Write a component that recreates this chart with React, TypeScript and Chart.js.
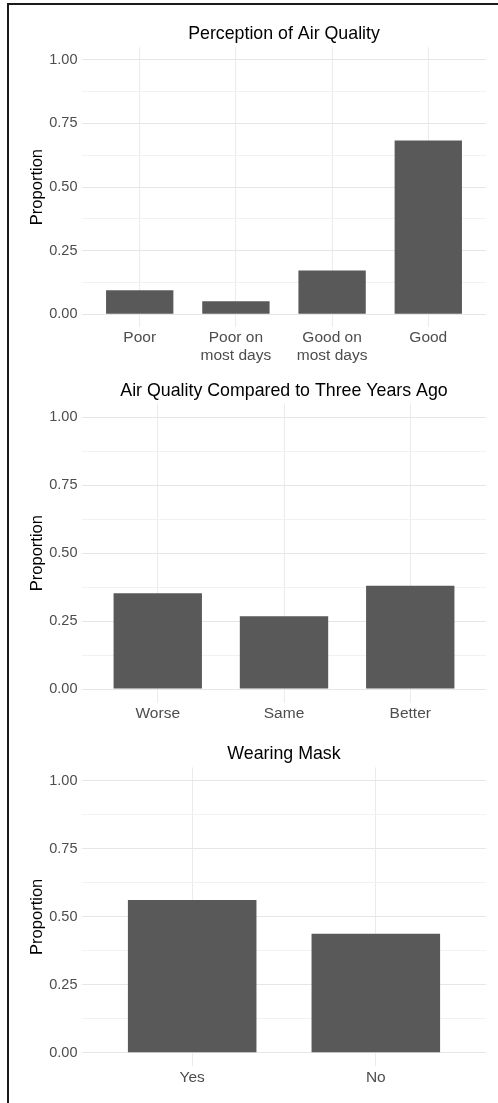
import React, { useEffect, useRef } from "react";
import { Chart, registerables } from "chart.js";

Chart.register(...registerables);

const FONT = "'Liberation Sans', Arial, Helvetica, sans-serif";

// ---- data ----
const perceptionTitle = "Perception of Air Quality";
const perceptionLabels: (string | string[])[] = ["Poor", ["Poor on", "most days"], ["Good on", "most days"], "Good"];
const perceptionValues = [0.094, 0.051, 0.172, 0.683];

const changeTitle = "Air Quality Compared to Three Years Ago";
const changeLabels: (string | string[])[] = ["Worse", "Same", "Better"];
const changeValues = [0.352, 0.268, 0.38];

const maskTitle = "Wearing Mask";
const maskLabels: (string | string[])[] = ["Yes", "No"];
const maskValues = [0.562, 0.438];

const yGridValues = [0, 0.125, 0.25, 0.375, 0.5, 0.625, 0.75, 0.875, 1];
const yMajorValues = [0, 0.25, 0.5, 0.75, 1];
const yAxisTitle = "Proportion";

type PanelProps = {
  title: string;
  labels: (string | string[])[];
  values: number[];
  top: number;
  height: number;
  titlePadTop: number;
  titlePadBottom: number;
  xAxisHeight: number;
};

function Panel({ title, labels, values, top, height, titlePadTop, titlePadBottom, xAxisHeight }: PanelProps) {
  const ref = useRef<HTMLCanvasElement | null>(null);
  useEffect(() => {
    if (!ref.current) return;
    const n = labels.length;
    const chart = new Chart(ref.current, {
      type: "bar",
      data: {
        datasets: [
          {
            data: values.map((v, i) => ({ x: i, y: v })),
            backgroundColor: "#595959",
            borderWidth: 0,
            barPercentage: 0.7,
            categoryPercentage: 1,
          },
        ],
      },
      options: {
        animation: false,
        responsive: false,
        devicePixelRatio: 1,
        layout: { padding: { left: 0, right: 12, top: 0, bottom: 0 } },
        plugins: {
          legend: { display: false },
          tooltip: { enabled: false },
          title: {
            display: true,
            text: title,
            fullSize: false,
            color: "#000000",
            font: { family: FONT, size: 17.8, weight: "normal" },
            padding: { top: titlePadTop, bottom: titlePadBottom },
          },
        },
        scales: {
          x: {
            type: "linear",
            offset: false,
            min: -0.6,
            max: n - 1 + 0.6,
            afterBuildTicks: (scale: any) => {
              scale.ticks = labels.map((_, i) => ({ value: i }));
            },
            afterFit: (scale: any) => {
              scale.height = xAxisHeight;
            },
            ticks: {
              autoSkip: false,
              maxRotation: 0,
              minRotation: 0,
              padding: 2,
              color: "#4d4d4d",
              font: { family: FONT, size: 15.5, lineHeight: 1.16 },
              callback: (v: any) => labels[Math.round(Number(v))] as any,
            },
            grid: { color: "#ebebeb", drawTicks: false, offset: false, lineWidth: 1 },
            border: { display: false },
          },
          y: {
            type: "linear",
            min: -0.05,
            max: 1.05,
            afterBuildTicks: (scale: any) => {
              scale.ticks = yGridValues.map((v) => ({ value: v }));
            },
            afterFit: (scale: any) => {
              scale.width = 82;
            },
            ticks: {
              padding: 4.5,
              color: "#4d4d4d",
              font: { family: FONT, size: 14.5 },
              callback: (v: any) => (yMajorValues.includes(Number(v)) ? Number(v).toFixed(2) : ""),
            },
            grid: {
              drawTicks: false,
              lineWidth: 1,
              color: (ctx: any) =>
                ctx.tick && yMajorValues.includes(ctx.tick.value) ? "#e6e6e6" : "#f2f2f2",
            },
            border: { display: false },
            title: {
              display: true,
              text: yAxisTitle,
              color: "#000000",
              font: { family: FONT, size: 16.5 },
              padding: { top: 28, bottom: 0 },
            },
          },
        },
      } as any,
    });
    return () => chart.destroy();
  }, []);
  return (
    <canvas
      ref={ref}
      width={498}
      height={height}
      style={{ position: "absolute", left: 0, top, width: 498, height, display: "block" }}
    />
  );
}

export default function App() {
  return (
    <div
      style={{
        position: "absolute",
        left: 0,
        top: 0,
        width: 498,
        height: 1103,
        overflow: "hidden",
        background: "#ffffff",
      }}
    >
      <Panel
        title={perceptionTitle}
        labels={perceptionLabels}
        values={perceptionValues}
        top={0}
        height={368}
        titlePadTop={23.5}
        titlePadBottom={2.3}
        xAxisHeight={41}
      />
      <Panel
        title={changeTitle}
        labels={changeLabels}
        values={changeValues}
        top={368}
        height={362}
        titlePadTop={12.5}
        titlePadBottom={1.8}
        xAxisHeight={27.4}
      />
      <Panel
        title={maskTitle}
        labels={maskLabels}
        values={maskValues}
        top={730}
        height={373}
        titlePadTop={13.5}
        titlePadBottom={2.5}
        xAxisHeight={36.7}
      />
      <div style={{ position: "absolute", left: 7, top: 3, width: 491, height: 2, background: "#1a1a1a" }} />
      <div style={{ position: "absolute", left: 7, top: 3, width: 2, height: 1100, background: "#1a1a1a" }} />
    </div>
  );
}
